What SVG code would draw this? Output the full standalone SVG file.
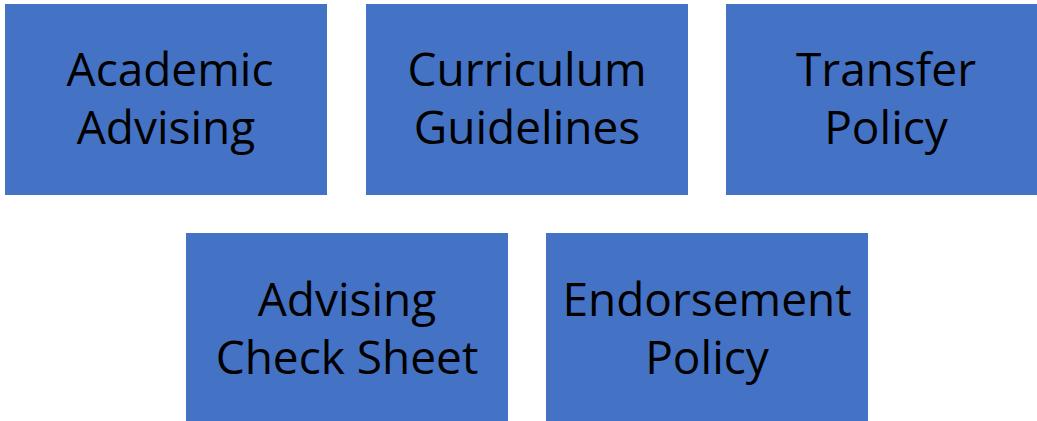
<svg xmlns="http://www.w3.org/2000/svg" width="1037" height="421" viewBox="0 0 1037 421">
<style>
.box{fill:#4472C4;}
.t{font-family:"Open Sans","Noto Sans",sans-serif;font-size:46px;fill:#000;text-anchor:middle;}
</style>
<rect width="1037" height="421" fill="#fff"/>
<g id="academic-advising"><rect class="box" x="5" y="4" width="322" height="191"/><text class="t" x="170" y="86">Academic</text><text class="t" x="166" y="144">Advising</text></g>
<g id="curriculum-guidelines"><rect class="box" x="366" y="4" width="322" height="191"/><text class="t" x="527" y="86">Curriculum</text><text class="t" x="527" y="144">Guidelines</text></g>
<g id="transfer-policy"><rect class="box" x="726" y="4" width="322" height="191"/><text class="t" x="886" y="86">Transfer</text><text class="t" x="886" y="144">Policy</text></g>
<g id="advising-check-sheet"><rect class="box" x="186" y="233" width="322" height="191"/><text class="t" x="347" y="316">Advising</text><text class="t" x="347" y="374">Check Sheet</text></g>
<g id="endorsement-policy"><rect class="box" x="546" y="233" width="322" height="191"/><text class="t" x="707" y="316">Endorsement</text><text class="t" x="707" y="374">Policy</text></g>
<g id="connectors"></g>
</svg>
